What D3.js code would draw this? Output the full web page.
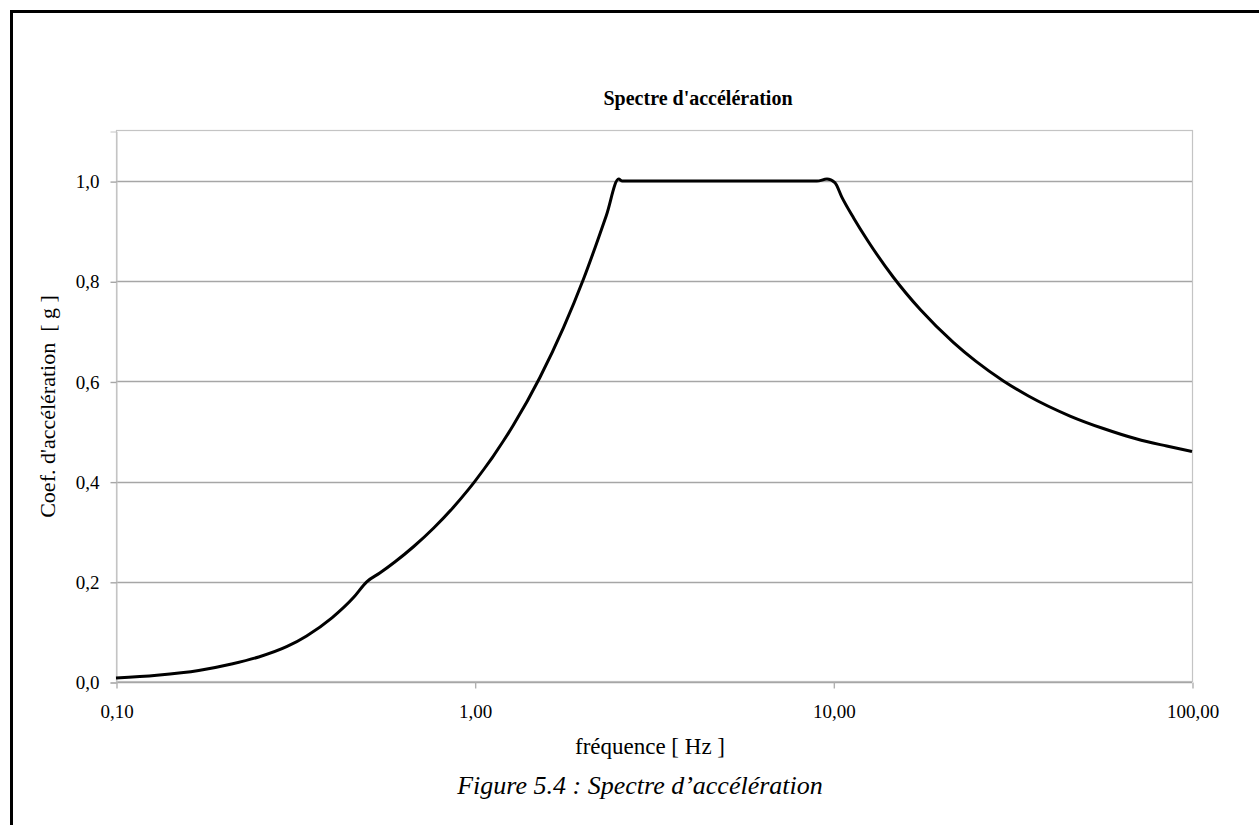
<!DOCTYPE html>
<html>
<head>
<meta charset="utf-8">
<script src="https://cdn.jsdelivr.net/npm/d3@7"></script>
<style>
  html, body { margin: 0; padding: 0; background: #fff; }
  svg { display: block; }
  text { font-family: "Liberation Serif", "Times New Roman", serif; fill: #000; }
</style>
</head>
<body>
<div id="chart"></div>
<script>
// fréquences (Hz) et coefficient d'accélération (g)
const freqs = [0.10, 0.13, 0.17, 0.21, 0.25, 0.30, 0.34, 0.40, 0.46, 0.50, 0.545, 0.60, 0.675, 0.77, 0.87, 0.96, 1.00,
  1.28, 1.52, 1.77, 2.01, 2.33, 2.52, 2.58, 3.0, 4.0, 5.0, 6.0, 7.0, 8.0, 9.0, 9.6, 10.1, 10.56,
  11.4, 12.5, 14.7, 17.5, 21.6, 25, 29.8, 35, 45.7, 56.6, 70.2, 85, 100];
const accel = [0.008, 0.0135, 0.023, 0.036, 0.050, 0.071, 0.092, 0.128, 0.169, 0.200, 0.218, 0.240, 0.270, 0.308, 0.348, 0.384, 0.400,
  0.512, 0.608, 0.708, 0.804, 0.932, 1.004, 1.000, 1.000, 1.000, 1.000, 1.000, 1.000, 1.000, 1.000, 1.004, 0.997, 0.968,
  0.926, 0.880, 0.808, 0.743, 0.678, 0.640, 0.601, 0.571, 0.531, 0.506, 0.485, 0.471, 0.460];

const yTicks = [0, 0.2, 0.4, 0.6, 0.8, 1.0];
const xTicks = [0.1, 1, 10, 100];

const W = 1259, H = 825;
const m = { left: 116, right: 1192, top: 131, bottom: 682 };

const fr = d3.formatLocale({ decimal: ',', thousands: ' ', grouping: [3], currency: ['', ' €'] });

const svg = d3.select('#chart').append('svg')
  .attr('width', W).attr('height', H);

// cadre de la page (haut + gauche)
svg.append('path')
  .attr('d', `M11.5,${H} L11.5,11.5 L${W},11.5`)
  .attr('fill', 'none').attr('stroke', '#000').attr('stroke-width', 3);

const x = d3.scaleLog().domain([0.1, 100]).range([m.left, m.right]);
const y = d3.scaleLinear().domain([0, 1.1]).range([m.bottom, m.top]);

// bord de la zone de tracé
svg.append('rect')
  .attr('x', m.left + 0.5).attr('y', m.top - 0.5)
  .attr('width', m.right - m.left).attr('height', m.bottom - m.top)
  .attr('fill', 'none').attr('stroke', '#c4c4c4').attr('stroke-width', 1.2);

// quadrillage horizontal
svg.append('g')
  .selectAll('line')
  .data(yTicks)
  .join('line')
  .attr('x1', m.left).attr('x2', m.right)
  .attr('y1', d => Math.round(y(d)) + 0.5).attr('y2', d => Math.round(y(d)) + 0.5)
  .attr('stroke', '#a6a6a6').attr('stroke-width', 1.4);

// axe Y
const yAxis = svg.append('g')
  .attr('transform', `translate(${m.left + 0.5},0.5)`)
  .call(d3.axisLeft(y).tickValues(yTicks).tickSize(6).tickPadding(11).tickFormat(fr.format('.1f')));
yAxis.select('.domain').attr('stroke', '#c4c4c4');
yAxis.selectAll('.tick line').attr('stroke', '#a6a6a6').attr('stroke-width', 1.4);
yAxis.selectAll('.tick text').style('font-size', '19px').style('font-family', '"Liberation Serif", serif');

// axe X
const xAxis = svg.append('g')
  .attr('transform', `translate(0.5,${m.bottom + 0.5})`)
  .call(d3.axisBottom(x).tickValues(xTicks).tickSize(6).tickPadding(16).tickFormat(fr.format('.2f')));
xAxis.select('.domain').remove();
xAxis.selectAll('.tick line').attr('stroke', '#b0b0b0').attr('stroke-width', 1.4);
xAxis.selectAll('.tick text').style('font-size', '19px').style('font-family', '"Liberation Serif", serif');

// courbe
const pts = freqs.map((f, i) => [f, accel[i]]);
svg.append('path')
  .datum(pts)
  .attr('fill', 'none')
  .attr('stroke', '#000')
  .attr('stroke-width', 3)
  .attr('stroke-linejoin', 'round')
  .attr('d', d3.line().x(d => x(d[0])).y(d => y(d[1])).curve(d3.curveMonotoneX));

// titres
svg.append('text')
  .attr('x', 698).attr('y', 105)
  .attr('text-anchor', 'middle')
  .style('font-size', '20px').style('font-weight', 'bold')
  .text("Spectre d'accélération");

svg.append('text')
  .attr('x', 650).attr('y', 754)
  .attr('text-anchor', 'middle')
  .style('font-size', '23px')
  .text('fréquence [ Hz ]');

svg.append('text')
  .attr('transform', `translate(55,${(m.top + m.bottom) / 2}) rotate(-90)`)
  .attr('text-anchor', 'middle')
  .style('font-size', '22px')
  .style('white-space', 'pre')
  .text("Coef. d'accélération  [ g ]");

svg.append('text')
  .attr('x', 640).attr('y', 794)
  .attr('text-anchor', 'middle')
  .style('font-size', '26px').style('font-style', 'italic')
  .text('Figure 5.4 : Spectre d’accélération');
</script>
</body>
</html>
